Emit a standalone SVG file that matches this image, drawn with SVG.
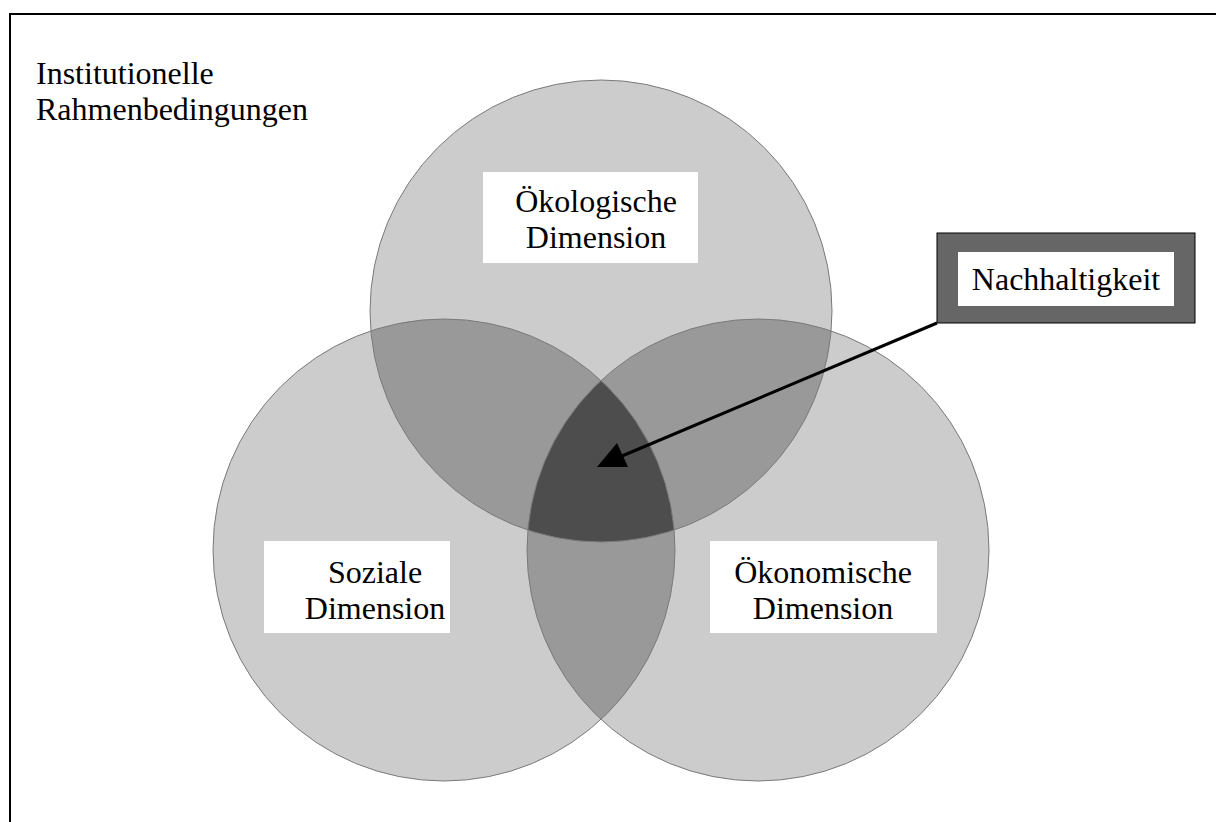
<svg xmlns="http://www.w3.org/2000/svg" width="1216" height="822" viewBox="0 0 1216 822">
<style>
text{font-family:"Liberation Serif","Times New Roman",serif;font-size:32px;fill:#000;}
.c{fill:#cccccc;}
.mid{fill:#999999;}
.dark{fill:#4d4d4d;}
.edge{fill:none;stroke:#7a7a7a;stroke-width:1;}
.lbl{fill:#fff;}
</style>
<defs>
<marker id="ah" markerWidth="10" markerHeight="8" refX="9" refY="4" orient="auto" markerUnits="userSpaceOnUse" viewBox="0 0 10 8">
<path d="M0,0 L10,4 L0,8 Z" fill="#000"/>
</marker>
</defs>
<rect x="0" y="0" width="1216" height="822" fill="#fff"/>
<rect x="10" y="14" width="1220" height="830" fill="none" stroke="#000" stroke-width="2"/>
<text x="36" y="84">Institutionelle</text>
<text x="36" y="120">Rahmenbedingungen</text>
<g id="circles">
<circle class="c" cx="601" cy="311" r="231"/>
<circle class="c" cx="444" cy="550" r="231"/>
<circle class="c" cx="758" cy="550" r="231"/>
<path class="mid" d="M370.9,330.9 A231,231 0 0 1 674.1,530.1 A231,231 0 0 1 370.9,330.9 Z"/>
<path class="mid" d="M831.1,330.9 A231,231 0 0 1 527.9,530.1 A231,231 0 0 1 831.1,330.9 Z"/>
<path class="mid" d="M601,380.55 A231,231 0 0 1 601,719.45 A231,231 0 0 1 601,380.55 Z"/>
<path class="dark" d="M601,380.55 A231,231 0 0 1 674.1,530.1 A231,231 0 0 1 527.9,530.1 A231,231 0 0 1 601,380.55 Z"/>
<circle class="edge" cx="601" cy="311" r="231"/>
<circle class="edge" cx="444" cy="550" r="231"/>
<circle class="edge" cx="758" cy="550" r="231"/>
</g>
<g id="oekologisch">
<rect class="lbl" x="483" y="172" width="215" height="91"/>
<text x="596" y="212" text-anchor="middle">Ökologische</text>
<text x="596" y="248" text-anchor="middle">Dimension</text>
</g>
<g id="sozial">
<rect class="lbl" x="264" y="541" width="186" height="92"/>
<text x="375" y="583" text-anchor="middle">Soziale</text>
<text x="375" y="619" text-anchor="middle">Dimension</text>
</g>
<g id="oekonomisch">
<rect class="lbl" x="710" y="541" width="227" height="92"/>
<text x="823" y="583" text-anchor="middle">Ökonomische</text>
<text x="823" y="619" text-anchor="middle">Dimension</text>
</g>
<g id="nachhaltigkeit">
<rect x="937" y="233" width="258" height="90" fill="#666666" stroke="#000" stroke-width="1"/>
<rect class="lbl" x="958" y="252" width="216" height="54"/>
<text x="1066" y="290" text-anchor="middle">Nachhaltigkeit</text>
</g>
<g id="connectors">
<line x1="937" y1="323" x2="622" y2="456" stroke="#000" stroke-width="3"/>
<path d="M597,467 L617,443 L628,467 Z" fill="#000"/>
</g>
</svg>
